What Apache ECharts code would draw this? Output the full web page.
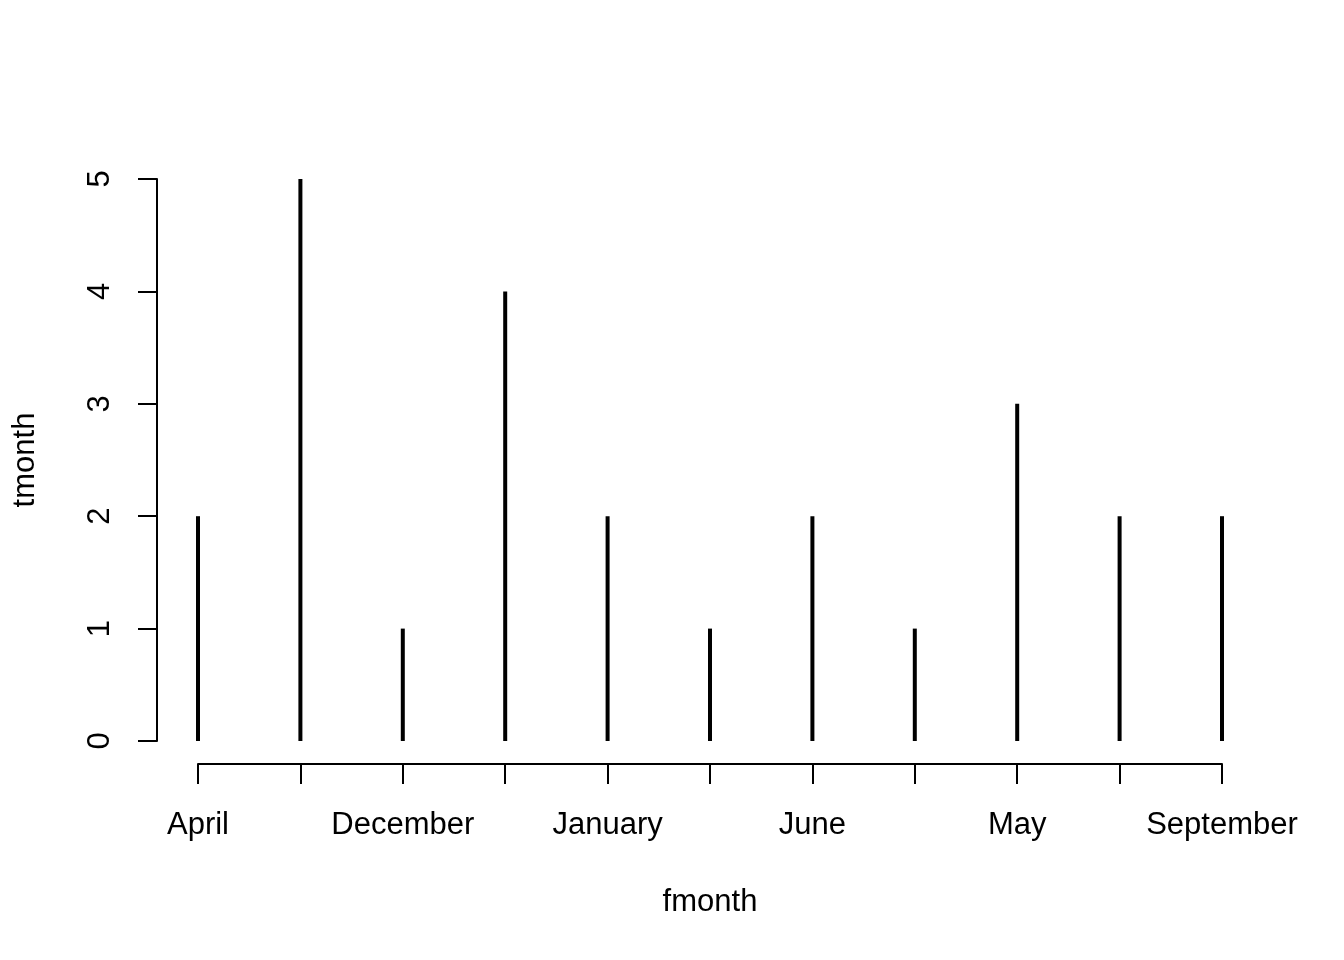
<!DOCTYPE html>
<html><head><meta charset="utf-8">
<script src="https://cdn.jsdelivr.net/npm/echarts@6/dist/echarts.min.js"></script>
<style>html,body{margin:0;padding:0;background:#fff}#c{width:1344px;height:960px}</style>
</head><body><div id="c"></div>
<script>
const categories = ["April","August","December","February","January","July","June","March","May","November","September"];
const counts = [2,5,1,4,2,1,2,1,3,2,2];
const yTicks = [0,1,2,3,4,5];

const chart = echarts.init(document.getElementById('c'));
const font = 'Liberation Sans, Arial, sans-serif';
chart.setOption({
  animation: false,
  backgroundColor: '#fff',
  grid: {left: 198, right: 122, top: 179, bottom: 219, containLabel: false},
  xAxis: {
    type: 'category', data: categories, boundaryGap: false, offset: 23,
    name: 'fmonth', nameLocation: 'middle', nameGap: 123,
    nameTextStyle: {color: '#000', fontSize: 31, fontFamily: font},
    axisLine: {show: true, onZero: false, lineStyle: {color: '#000', width: 2}},
    axisTick: {show: true, interval: 0, length: 20, lineStyle: {color: '#000', width: 2}},
    axisLabel: {interval: 1, color: '#000', fontSize: 31, fontFamily: font, margin: 46},
    splitLine: {show: false}
  },
  yAxis: {
    type: 'value', min: yTicks[0], max: yTicks[yTicks.length-1], interval: 1, offset: 41,
    name: 'tmonth', nameLocation: 'middle', nameGap: 116,
    nameTextStyle: {color: '#000', fontSize: 31, fontFamily: font},
    axisLine: {show: true, lineStyle: {color: '#000', width: 2}},
    axisTick: {show: true, length: 19, lineStyle: {color: '#000', width: 2}},
    axisLabel: {rotate: 90, color: '#000', fontSize: 31, fontFamily: font, margin: 41},
    splitLine: {show: false}
  },
  series: [{
    type: 'bar', data: counts, barWidth: 4,
    itemStyle: {color: '#000'}
  }]
});
</script></body></html>
